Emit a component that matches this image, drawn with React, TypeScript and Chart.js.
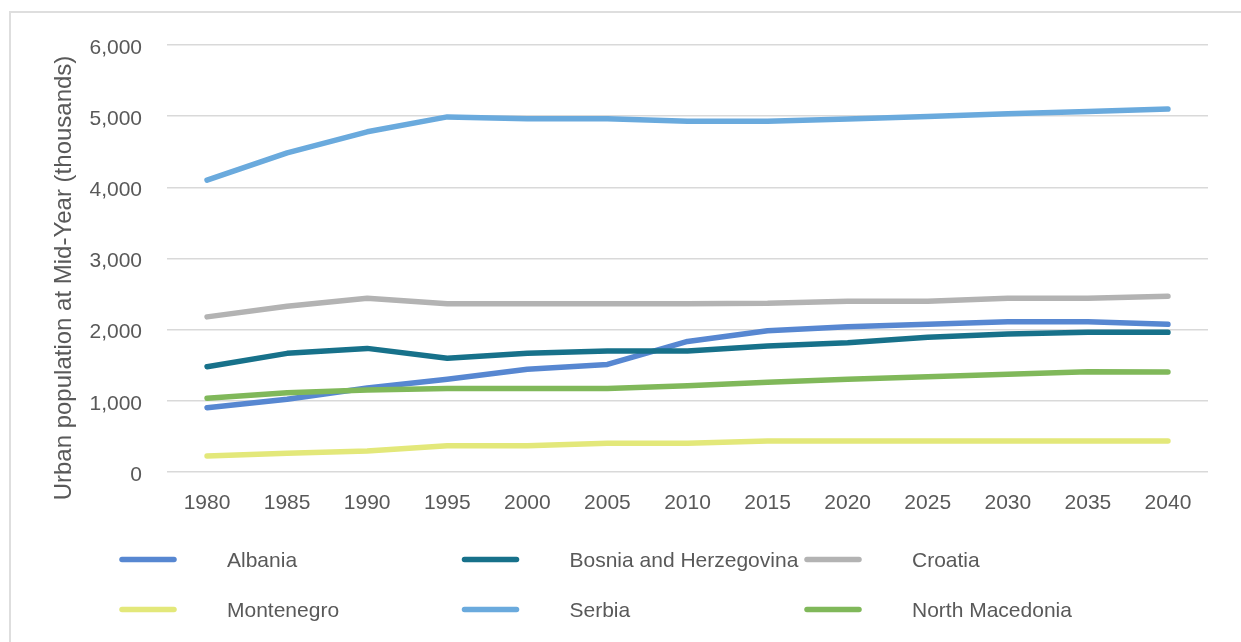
import React, { useEffect, useRef } from "react";
import { Chart, registerables } from "chart.js";

Chart.register(...registerables);

const years = ["1980", "1985", "1990", "1995", "2000", "2005", "2010", "2015", "2020", "2025", "2030", "2035", "2040"];

const albania = [903, 1021, 1180, 1302, 1445, 1512, 1835, 1985, 2040, 2075, 2110, 2110, 2075];
const bosnia = [1480, 1667, 1737, 1597, 1667, 1700, 1700, 1770, 1815, 1895, 1940, 1965, 1962];
const croatia = [2180, 2330, 2440, 2365, 2365, 2365, 2365, 2370, 2400, 2400, 2440, 2440, 2470];
const montenegro = [225, 262, 295, 370, 370, 403, 403, 435, 435, 435, 435, 435, 435];
const serbia = [4100, 4485, 4780, 4990, 4965, 4965, 4930, 4930, 4960, 4995, 5035, 5065, 5100];
const northMacedonia = [1035, 1114, 1152, 1175, 1175, 1175, 1212, 1260, 1305, 1340, 1372, 1410, 1405];

const seriesNames = ["Albania", "Bosnia and Herzegovina", "Croatia", "Montenegro", "Serbia", "North Macedonia"];
const seriesValues = [albania, bosnia, croatia, montenegro, serbia, northMacedonia];
const seriesColors = ["#5787d1", "#17718a", "#b3b3b3", "#e3e87a", "#6aaadd", "#80b85a"];

const yTitle = "Urban population at Mid-Year (thousands)";
const yMin = 0;
const yMax = 6000;
const yStep = 1000;

const FONT = "'Liberation Sans', Arial, sans-serif";
const TEXT = "#595959";

const extrasPlugin = {
  id: "extras",
  afterDraw(chart: any) {
    const ctx = chart.ctx;
    ctx.save();
    // y-axis title
    ctx.fillStyle = TEXT;
    ctx.font = `24px ${FONT}`;
    ctx.textAlign = "center";
    ctx.textBaseline = "middle";
    ctx.translate(64, 278);
    ctx.rotate(-Math.PI / 2);
    ctx.fillText(yTitle, 0, 0);
    ctx.restore();

    // legend
    ctx.save();
    chart.data.datasets.forEach((ds: any, i: number) => {
      const col = i % 3;
      const row = Math.floor(i / 3);
      const x0 = 122 + 342.5 * col;
      const y0 = 559.5 + 50 * row;
      ctx.strokeStyle = ds.borderColor;
      ctx.lineWidth = 5.5;
      ctx.lineCap = "round";
      ctx.beginPath();
      ctx.moveTo(x0, y0);
      ctx.lineTo(x0 + 52, y0);
      ctx.stroke();
      ctx.fillStyle = TEXT;
      ctx.font = `21px ${FONT}`;
      ctx.textAlign = "left";
      ctx.textBaseline = "middle";
      ctx.fillText(ds.label, x0 + 105, y0 + 2);
    });
    ctx.restore();
  },
};

export default function App() {
  const ref = useRef<HTMLCanvasElement | null>(null);

  useEffect(() => {
    if (!ref.current) return;
    const chart = new Chart(ref.current, {
      type: "line",
      data: {
        labels: years,
        datasets: seriesNames.map((name, i) => ({
          label: name,
          data: seriesValues[i],
          borderColor: seriesColors[i],
          backgroundColor: seriesColors[i],
          borderWidth: 5.5,
          borderCapStyle: "round",
          borderJoinStyle: "round",
          pointRadius: 0,
          pointHoverRadius: 0,
          tension: 0,
          fill: false,
          order: seriesNames.length - i,
        })),
      },
      options: {
        animation: false,
        responsive: false,
        maintainAspectRatio: false,
        layout: { padding: { left: 0, right: 33, top: 45, bottom: 0 } },
        plugins: {
          legend: { display: false },
          tooltip: { enabled: false },
          title: { display: false },
        },
        scales: {
          x: {
            type: "category",
            offset: true,
            grid: { display: false, drawTicks: false },
            border: { display: false },
            ticks: {
              color: TEXT,
              font: { family: FONT, size: 21 },
              padding: 19,
              maxRotation: 0,
              autoSkip: false,
            },
            afterFit: (s: any) => {
              s.height = 170;
            },
          },
          y: {
            min: yMin,
            max: yMax,
            grid: { color: "#d9d9d9", lineWidth: 1.5, drawTicks: false },
            border: { display: false },
            ticks: {
              stepSize: yStep,
              color: TEXT,
              font: { family: FONT, size: 21 },
              padding: 25,
              labelOffset: 3,
              callback: (v: any) => Number(v).toLocaleString("en-US"),
            },
            afterFit: (s: any) => {
              s.width = 167;
            },
          },
        },
      },
      plugins: [extrasPlugin],
    });
    return () => chart.destroy();
  }, []);

  return (
    <div style={{ position: "fixed", left: 0, top: 0, width: 1241, height: 642, background: "#ffffff", overflow: "hidden" }}>
      <div
        style={{
          position: "absolute",
          left: 9,
          top: 11,
          width: 1260,
          height: 700,
          border: "2px solid #dedede",
          boxSizing: "border-box",
        }}
      />
      <canvas ref={ref} width={1241} height={642} style={{ position: "absolute", left: 0, top: 0, width: 1241, height: 642 }} />
    </div>
  );
}
